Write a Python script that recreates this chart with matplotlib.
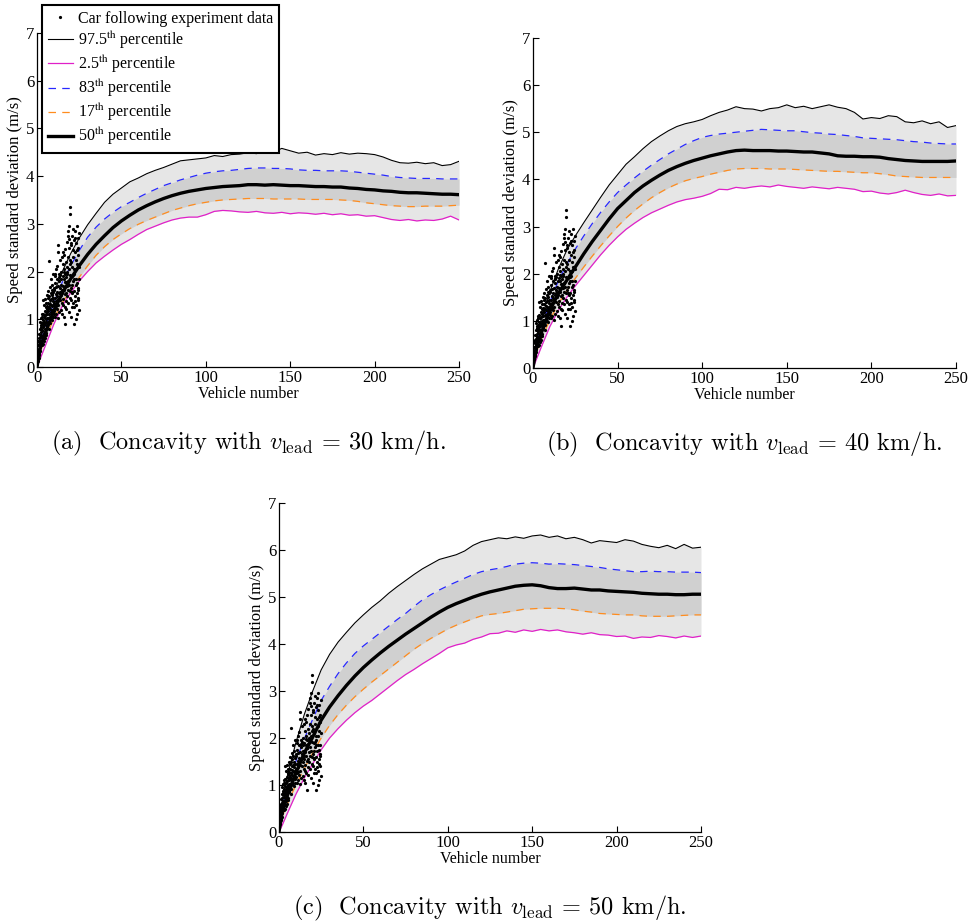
import matplotlib
matplotlib.use("Agg")
import matplotlib.pyplot as plt
import numpy as np

plt.rcParams['font.family'] = ['Liberation Serif', 'DejaVu Serif']
plt.rcParams['mathtext.fontset'] = 'stix'

# vehicle positions where the percentile curves were read
vehicle = [0, 2, 5, 10, 15, 20, 25, 30, 35, 40, 45, 50, 55, 60, 65, 70, 75, 80, 85, 90, 95, 100,
           105, 110, 115, 120, 125, 130, 135, 140, 145, 150, 155, 160, 165, 170, 175, 180,
           185, 190, 195, 200, 205, 210, 215, 220, 225, 230, 235, 240, 245, 250]

# (a) v_lead = 30 km/h
a_p975 = [0, .60, 1.02, 1.55, 2.00, 2.38, 2.70, 2.98, 3.22, 3.45, 3.62, 3.75, 3.88, 3.96, 4.05, 4.12, 4.18, 4.25, 4.32, 4.34, 4.36, 4.38,
          4.43, 4.41, 4.45, 4.46, 4.49, 4.47, 4.52, 4.50, 4.58, 4.53, 4.48, 4.50, 4.44, 4.47, 4.45, 4.49,
          4.46, 4.48, 4.47, 4.45, 4.40, 4.33, 4.28, 4.27, 4.29, 4.26, 4.28, 4.22, 4.24, 4.31]
a_p83 = [0, .50, .85, 1.35, 1.78, 2.12, 2.44, 2.72, 2.93, 3.10, 3.24, 3.36, 3.45, 3.55, 3.64, 3.72, 3.80, 3.86, 3.92, 3.97, 4.02, 4.06,
         4.09, 4.11, 4.12, 4.14, 4.16, 4.17, 4.17, 4.16, 4.16, 4.15, 4.13, 4.12, 4.12, 4.11, 4.11, 4.11,
         4.10, 4.08, 4.06, 4.04, 4.02, 3.99, 3.97, 3.96, 3.95, 3.95, 3.95, 3.94, 3.94, 3.94]
a_p50 = [0, .42, .72, 1.18, 1.55, 1.85, 2.12, 2.36, 2.57, 2.75, 2.92, 3.06, 3.18, 3.29, 3.38, 3.46, 3.53, 3.59, 3.64, 3.68, 3.71, 3.74,
         3.76, 3.78, 3.79, 3.80, 3.82, 3.82, 3.81, 3.82, 3.81, 3.80, 3.80, 3.79, 3.78, 3.78, 3.77, 3.77,
         3.75, 3.74, 3.72, 3.71, 3.69, 3.68, 3.66, 3.65, 3.65, 3.64, 3.63, 3.62, 3.62, 3.61]
a_p17 = [0, .33, .60, 1.02, 1.35, 1.62, 1.88, 2.12, 2.34, 2.52, 2.67, 2.79, 2.90, 2.99, 3.07, 3.14, 3.21, 3.28, 3.33, 3.38, 3.42, 3.45,
         3.48, 3.50, 3.51, 3.52, 3.53, 3.53, 3.53, 3.52, 3.52, 3.52, 3.52, 3.51, 3.51, 3.51, 3.51, 3.50,
         3.49, 3.47, 3.44, 3.42, 3.40, 3.38, 3.37, 3.36, 3.36, 3.37, 3.37, 3.37, 3.38, 3.39]
a_p025 = [0, .18, .45, .90, 1.28, 1.56, 1.80, 2.00, 2.18, 2.32, 2.45, 2.57, 2.67, 2.78, 2.88, 2.95, 3.02, 3.08, 3.12, 3.14, 3.14, 3.19,
          3.26, 3.28, 3.27, 3.25, 3.24, 3.26, 3.23, 3.22, 3.24, 3.21, 3.23, 3.22, 3.20, 3.22, 3.19, 3.21,
          3.18, 3.19, 3.16, 3.17, 3.13, 3.09, 3.07, 3.09, 3.06, 3.08, 3.07, 3.10, 3.16, 3.08]

# (b) v_lead = 40 km/h
b_p975 = [0, .62, 1.05, 1.62, 2.10, 2.50, 2.80, 3.08, 3.35, 3.62, 3.88, 4.10, 4.32, 4.48, 4.65, 4.80, 4.92, 5.03, 5.12, 5.18, 5.22, 5.27,
          5.35, 5.42, 5.47, 5.54, 5.50, 5.49, 5.45, 5.50, 5.52, 5.58, 5.52, 5.55, 5.50, 5.54, 5.58, 5.53,
          5.50, 5.42, 5.28, 5.31, 5.29, 5.35, 5.33, 5.22, 5.20, 5.24, 5.18, 5.22, 5.10, 5.14]
b_p83 = [0, .50, .88, 1.40, 1.85, 2.20, 2.52, 2.80, 3.06, 3.30, 3.52, 3.72, 3.88, 4.03, 4.17, 4.30, 4.42, 4.54, 4.64, 4.74, 4.82, 4.89,
         4.93, 4.96, 4.98, 5.00, 5.02, 5.04, 5.06, 5.05, 5.04, 5.03, 5.03, 5.01, 4.99, 4.98, 4.96, 4.95,
         4.93, 4.91, 4.88, 4.87, 4.86, 4.85, 4.84, 4.82, 4.80, 4.79, 4.77, 4.76, 4.75, 4.75]
b_p50 = [0, .42, .75, 1.22, 1.58, 1.86, 2.14, 2.42, 2.68, 2.92, 3.16, 3.38, 3.55, 3.72, 3.86, 3.98, 4.09, 4.19, 4.27, 4.34, 4.40, 4.45,
         4.50, 4.54, 4.58, 4.61, 4.62, 4.61, 4.61, 4.61, 4.60, 4.60, 4.59, 4.58, 4.58, 4.56, 4.54, 4.50,
         4.49, 4.49, 4.48, 4.48, 4.47, 4.44, 4.42, 4.40, 4.39, 4.38, 4.38, 4.38, 4.38, 4.39]
b_p17 = [0, .34, .62, 1.02, 1.36, 1.64, 1.90, 2.14, 2.37, 2.59, 2.80, 3.00, 3.18, 3.34, 3.48, 3.61, 3.72, 3.82, 3.90, 3.97, 4.02, 4.06,
         4.11, 4.15, 4.19, 4.22, 4.23, 4.23, 4.23, 4.22, 4.22, 4.22, 4.21, 4.20, 4.19, 4.18, 4.17, 4.17,
         4.16, 4.15, 4.14, 4.14, 4.12, 4.10, 4.07, 4.06, 4.05, 4.04, 4.04, 4.04, 4.04, 4.04]
b_p025 = [0, .18, .45, .88, 1.22, 1.50, 1.74, 1.96, 2.18, 2.40, 2.60, 2.78, 2.94, 3.07, 3.19, 3.29, 3.37, 3.45, 3.52, 3.57, 3.60, 3.64,
          3.70, 3.79, 3.78, 3.83, 3.81, 3.84, 3.86, 3.84, 3.88, 3.85, 3.83, 3.81, 3.84, 3.82, 3.80, 3.83,
          3.81, 3.79, 3.74, 3.75, 3.71, 3.69, 3.72, 3.77, 3.72, 3.68, 3.66, 3.69, 3.65, 3.66]

# (c) v_lead = 50 km/h
c_p975 = [0, .70, 1.20, 1.90, 2.50, 3.00, 3.45, 3.78, 4.04, 4.25, 4.45, 4.62, 4.78, 4.92, 5.08, 5.22, 5.35, 5.48, 5.60, 5.70, 5.80, 5.85,
          5.90, 5.98, 6.10, 6.18, 6.22, 6.26, 6.24, 6.28, 6.25, 6.30, 6.32, 6.27, 6.30, 6.24, 6.27, 6.22,
          6.15, 6.20, 6.18, 6.16, 6.22, 6.19, 6.12, 6.08, 6.05, 6.10, 6.03, 6.12, 6.04, 6.06]
c_p83 = [0, .55, .95, 1.50, 1.98, 2.40, 2.80, 3.10, 3.37, 3.60, 3.80, 3.96, 4.10, 4.24, 4.38, 4.52, 4.65, 4.80, 4.94, 5.05, 5.15, 5.24,
         5.32, 5.40, 5.48, 5.54, 5.58, 5.61, 5.65, 5.70, 5.72, 5.73, 5.72, 5.70, 5.71, 5.70, 5.69, 5.67,
         5.65, 5.63, 5.60, 5.58, 5.56, 5.54, 5.54, 5.55, 5.54, 5.54, 5.53, 5.53, 5.53, 5.52]
c_p50 = [0, .45, .78, 1.25, 1.68, 2.02, 2.38, 2.66, 2.90, 3.12, 3.32, 3.50, 3.66, 3.81, 3.95, 4.08, 4.21, 4.33, 4.45, 4.57, 4.68, 4.78,
         4.86, 4.93, 5.00, 5.06, 5.11, 5.15, 5.19, 5.23, 5.25, 5.26, 5.24, 5.20, 5.18, 5.18, 5.19, 5.17,
         5.15, 5.15, 5.13, 5.12, 5.11, 5.10, 5.08, 5.07, 5.06, 5.06, 5.05, 5.05, 5.06, 5.06]
c_p17 = [0, .34, .60, 1.00, 1.35, 1.68, 2.00, 2.27, 2.50, 2.70, 2.88, 3.04, 3.19, 3.33, 3.47, 3.61, 3.75, 3.89, 4.01, 4.12, 4.22, 4.32,
         4.40, 4.47, 4.54, 4.60, 4.63, 4.65, 4.68, 4.71, 4.74, 4.75, 4.76, 4.76, 4.76, 4.75, 4.73, 4.70,
         4.68, 4.65, 4.64, 4.63, 4.62, 4.62, 4.60, 4.59, 4.59, 4.59, 4.60, 4.61, 4.62, 4.62]
c_p025 = [0, .15, .40, .80, 1.15, 1.45, 1.75, 2.00, 2.20, 2.38, 2.54, 2.68, 2.80, 2.94, 3.08, 3.22, 3.35, 3.46, 3.58, 3.69, 3.80, 3.92,
          3.98, 4.02, 4.10, 4.15, 4.22, 4.23, 4.28, 4.25, 4.30, 4.27, 4.31, 4.28, 4.30, 4.26, 4.24, 4.21,
          4.24, 4.20, 4.19, 4.16, 4.17, 4.12, 4.15, 4.14, 4.18, 4.16, 4.13, 4.17, 4.14, 4.17]

# car following experiment (same in every panel)
exp_x = [0.3, 0.5, 0.6, 0.8, 0.9, 1.0, 1.1, 1.2, 1.3, 1.4, 1.5, 1.6, 1.7, 1.8, 1.9, 2.0, 2.1, 2.2, 2.3, 2.4, 2.5, 2.6, 2.7, 2.8, 2.9, 0.4, 1.0, 1.6, 2.2, 2.8,
         3.0, 3.1, 3.2, 3.3, 3.4, 3.5, 3.6, 3.7, 3.8, 3.9, 4.0, 4.1, 4.2, 4.3, 4.4, 4.5, 4.6, 4.7, 4.8, 4.9, 5.0, 5.1, 5.2, 5.3, 5.4, 5.5, 5.6, 5.7, 5.8, 5.9, 3.5, 4.2, 4.8, 5.3, 5.9,
         6.0, 6.1, 6.2, 6.3, 6.4, 6.5, 6.6, 6.7, 6.8, 6.9, 7.0, 7.1, 7.2, 7.3, 7.4, 7.5, 7.6, 7.7, 7.8, 7.9, 8.0, 8.1, 8.2, 8.3, 8.4, 8.5, 8.6, 8.7, 8.8, 8.9, 9.0, 9.1, 9.2, 9.3, 9.4, 9.5, 9.6, 9.7, 9.8, 9.9,
         10.0, 10.1, 10.3, 10.4, 10.5, 10.7, 10.8, 11.0, 11.1, 11.2, 11.4, 11.5, 11.7, 11.8, 12.0, 12.1, 12.2, 12.4, 12.5, 12.7, 12.8, 13.0, 13.1, 13.2, 13.4, 13.5, 13.7, 13.8, 14.0, 14.1, 14.2, 14.4, 14.5, 14.7, 14.8, 14.9, 10.6, 11.3, 11.9, 12.6, 13.3, 13.9, 14.6, 12.3, 10.9,
         15.0, 15.1, 15.2, 15.4, 15.5, 15.6, 15.8, 15.9, 16.0, 16.2, 16.3, 16.4, 16.5, 16.7, 16.8, 17.0, 17.1, 17.2, 17.4, 17.5, 17.6, 17.8, 17.9, 18.0, 18.2, 18.3, 18.4, 18.6, 18.7, 18.8, 19.0, 19.1, 19.2, 19.4, 19.5, 19.6, 19.8, 19.9, 15.3, 15.7, 16.1, 16.6, 17.3, 17.7, 18.1, 18.5, 18.9, 19.3, 19.7, 16.9,
         20.0, 20.1, 20.2, 20.3, 20.5, 20.6, 20.7, 20.9, 21.0, 21.1, 21.3, 21.4, 21.5, 21.7, 21.8, 22.0, 22.1, 22.2, 22.4, 22.5, 22.6, 22.8, 22.9, 23.0, 23.2, 23.3, 23.4, 23.6, 23.7, 23.8, 24.0, 24.1, 24.2, 24.4, 24.5, 24.6, 24.8, 24.9, 20.4, 20.8, 21.2, 21.6, 22.3, 22.7, 23.1, 23.5, 23.9, 24.3, 24.7, 21.9, 22.0, 23.0, 24.0, 20.5, 19.5]
exp_y = [0.12, 0.35, 0.22, 0.45, 0.18, 0.60, 0.38, 0.52, 0.70, 0.28, 0.48, 0.80, 0.62, 0.41, 0.95, 0.55, 0.73, 0.88, 0.50, 1.02, 0.66, 0.84, 0.47, 0.92, 0.78, 0.55, 0.25, 0.33, 0.65, 1.10,
         0.75, 1.05, 0.62, 0.90, 1.40, 0.58, 0.98, 0.83, 1.12, 0.70, 0.95, 1.30, 0.66, 1.05, 0.88, 1.18, 0.74, 1.42, 0.92, 1.08, 0.80, 1.25, 1.00, 0.68, 1.35, 0.95, 1.15, 1.50, 0.85, 1.22, 0.48, 0.55, 0.60, 0.72, 1.02,
         1.10, 0.88, 1.28, 1.45, 0.95, 1.18, 1.60, 1.02, 1.35, 0.80, 2.22, 1.25, 1.12, 1.48, 0.92, 1.32, 1.68, 1.05, 1.40, 1.22, 1.55, 1.00, 1.30, 1.85, 1.15, 1.42, 1.62, 0.98, 1.28, 1.50, 1.72, 1.20, 1.38, 1.05, 1.58, 1.95, 1.30, 1.45, 1.12, 1.66,
         1.35, 1.62, 1.18, 1.90, 1.45, 1.25, 1.75, 1.52, 2.05, 1.10, 1.68, 1.38, 1.85, 1.22, 1.58, 2.12, 1.42, 1.70, 2.55, 1.30, 1.95, 1.55, 1.80, 1.15, 2.25, 1.65, 1.40, 1.92, 1.72, 1.20, 2.00, 1.50, 1.85, 1.35, 2.30, 1.62, 1.05, 1.28, 1.48, 2.40, 1.88, 1.58, 1.10, 1.02, 1.95,
         1.55, 1.90, 1.30, 2.15, 1.70, 1.42, 2.35, 1.85, 1.62, 2.05, 1.25, 1.78, 0.90, 1.95, 2.48, 1.55, 2.20, 1.38, 1.88, 2.62, 1.70, 2.10, 1.48, 1.95, 2.75, 1.62, 2.30, 1.80, 1.15, 2.05, 2.50, 1.72, 2.95, 1.45, 2.25, 3.35, 1.92, 2.60, 2.40, 1.05, 1.98, 1.52, 1.22, 2.00, 2.85, 1.35, 2.68, 1.60, 2.15, 1.78,
         2.20, 1.65, 2.55, 1.40, 1.90, 2.75, 1.25, 2.10, 1.55, 2.45, 1.80, 2.90, 1.35, 2.05, 1.60, 2.65, 0.90, 1.95, 2.40, 1.48, 2.85, 1.72, 2.25, 1.30, 2.60, 1.85, 2.95, 1.55, 2.15, 1.10, 2.70, 1.65, 2.35, 1.40, 2.50, 1.85, 1.20, 2.80, 1.05, 1.58, 2.30, 1.92, 2.70, 1.38, 2.05, 1.75, 2.45, 1.62, 2.10, 1.85, 1.25, 1.00, 1.45, 1.72, 3.20]

panels = [
    ("(a)", "30", [0.038, 0.602, 0.4333, 0.3623], a_p975, a_p83, a_p50, a_p17, a_p025),
    ("(b)", "40", [0.5472, 0.6009, 0.4343, 0.358], b_p975, b_p83, b_p50, b_p17, b_p025),
    ("(c)", "50", [0.2864, 0.0976, 0.4333, 0.3568], c_p975, c_p83, c_p50, c_p17, c_p025),
]

fig = plt.figure(figsize=(9.74, 9.22), dpi=100)

for tag, speed, rect, p975, p83, p50, p17, p025 in panels:
    ax = fig.add_axes(rect)
    ax.fill_between(vehicle, p025, p975, color='#e6e6e6', lw=0, zorder=1)
    ax.fill_between(vehicle, p17, p83, color='#d0d0d0', lw=0, zorder=1)
    ax.plot(exp_x, exp_y, '.', color='black', ms=2.6, zorder=6, label='Car following experiment data')
    ax.plot(vehicle, p975, color='black', lw=0.8, zorder=3, label='97.5$^{\\rm th}$ percentile')
    ax.plot(vehicle, p025, color='#e020c8', lw=0.9, zorder=3, label='2.5$^{\\rm th}$ percentile')
    ax.plot(vehicle, p83, color='#2828ff', lw=0.9, ls=(0, (6, 5)), zorder=3, label='83$^{\\rm th}$ percentile')
    ax.plot(vehicle, p17, color='#ff8c1e', lw=0.9, ls=(0, (6, 5)), zorder=3, label='17$^{\\rm th}$ percentile')
    ax.plot(vehicle, p50, color='black', lw=2.4, zorder=4, label='50$^{\\rm th}$ percentile')

    ax.set_xlim(0, 250)
    ax.set_ylim(0, 7)
    ax.set_xticks([0, 50, 100, 150, 200, 250])
    ax.set_yticks(range(8))
    ax.spines['top'].set_visible(False)
    ax.spines['right'].set_visible(False)
    for s in ('left', 'bottom'):
        ax.spines[s].set_linewidth(0.9)
    ax.tick_params(direction='in', length=4, width=0.8, labelsize=12, pad=2)
    ax.set_xlabel('Vehicle number', fontsize=11.5, labelpad=0)
    ax.set_ylabel('Speed standard deviation (m/s)', fontsize=12, labelpad=2)

    if tag == "(a)":
        leg = ax.legend(loc='upper left', bbox_to_anchor=(42 / 974, 1 - 5 / 922),
                        bbox_transform=fig.transFigure, fontsize=11.5, frameon=True,
                        fancybox=False, edgecolor='black', framealpha=1,
                        handlelength=1.6, handletextpad=0.3, labelspacing=0.18,
                        borderpad=0.35, borderaxespad=0, markerscale=1.0)
        leg.get_frame().set_linewidth(1.5)
        leg.set_zorder(10)

    x0 = rect[0] + rect[2] / 2
    ycap = rect[1] - 0.083
    fig.text(x0, ycap, tag + "  Concavity with $v_{\\rm lead}$ = " + speed + " km/h.",
             ha='center', va='center', fontsize=17.5, family='cmr10', math_fontfamily='cm')

fig.savefig('out.png', dpi=100)
